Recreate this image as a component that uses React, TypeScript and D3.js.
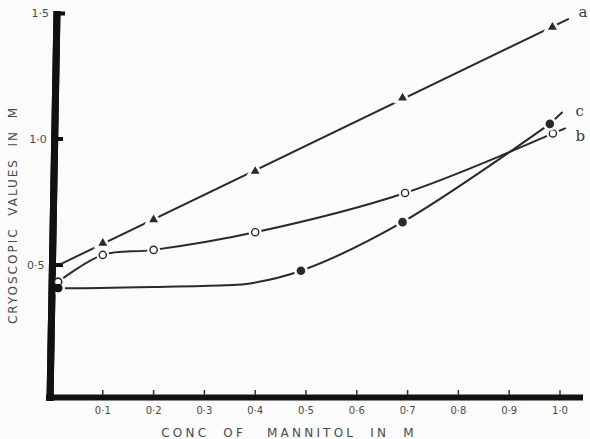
import React, { useEffect, useRef } from 'react';
import * as d3 from 'd3';

// curve a (triangles) - straight line through the points
const concA = [0.1, 0.2, 0.4, 0.69, 0.985];
const valA = [0.587, 0.68, 0.872, 1.163, 1.444];
// curve b (open circles)
const concB = [0.012, 0.1, 0.2, 0.4, 0.695, 0.986];
const valB = [0.433, 0.54, 0.56, 0.63, 0.786, 1.022];
// curve c (filled circles)
const concC = [0.012, 0.49, 0.69, 0.98];
const valC = [0.409, 0.477, 0.67, 1.06];
// hand drawn course of c through the flat part
const lineCConc = [0.012, 0.03, 0.2, 0.34, 0.39, 0.49, 0.69, 0.98];
const lineCVal = [0.409, 0.408, 0.413, 0.42, 0.427, 0.477, 0.67, 1.06];
// short dashes past the last point
const tailBConc = [0.986, 1.01];
const tailBVal = [1.022, 1.042];
const tailCConc = [0.98, 1.004];
const tailCVal = [1.06, 1.105];
const startA = 0.02, endA = 1.016;

const xTicks = [0.1, 0.2, 0.3, 0.4, 0.5, 0.6, 0.7, 0.8, 0.9, 1.0];
const xTickLabels = ['0·1', '0·2', '0·3', '0·4', '0·5', '0·6', '0·7', '0·8', '0·9', '1·0'];
const yTicks = [0.5, 1.0, 1.5];
const yTickLabels = ['0·5', '1·0', '1·5'];
const seriesNames = ['a', 'b', 'c'];

function Chart() {
  const ref = useRef<SVGSVGElement>(null);

  useEffect(() => {
    const svg = d3.select(ref.current);
    svg.selectAll('*').remove();

    const x = d3.scaleLinear().domain([0, 1]).range([52, 560]);
    const y = d3.scaleLinear().domain([0, 1.5]).range([391, 13]);

    const ink = '#2a2a2a';
    const textCol = '#4a4a4a';
    const font = 'DejaVu Sans, sans-serif';
    const bg = '#fbfbfb';

    svg.append('rect').attr('width', 590).attr('height', 439).attr('fill', bg);

    // slanted hand-drawn y axis
    const axTop = [x(0) + 5, y(1.5) - 2];
    const axBot = [x(0) - 2, 401];
    const axisXAt = (py: number) => axTop[0] + (axBot[0] - axTop[0]) * (py - axTop[1]) / (axBot[1] - axTop[1]);

    const drawYAxis = () => svg.append('line')
      .attr('x1', axTop[0]).attr('y1', axTop[1])
      .attr('x2', axBot[0]).attr('y2', axBot[1])
      .attr('stroke', '#111').attr('stroke-width', 7);
    drawYAxis();

    svg.append('line')
      .attr('x1', axBot[0] - 4).attr('y1', 397.5)
      .attr('x2', 583).attr('y2', 397.5)
      .attr('stroke', '#111').attr('stroke-width', 6);

    // x ticks
    svg.append('g').selectAll('line').data(xTicks).join('line')
      .attr('x1', d => x(d)).attr('x2', d => x(d))
      .attr('y1', 390).attr('y2', 395)
      .attr('stroke', '#333').attr('stroke-width', 1.5);

    svg.append('g').selectAll('text').data(xTicks).join('text')
      .attr('x', d => x(d)).attr('y', 414)
      .attr('text-anchor', 'middle')
      .attr('font-family', font).attr('font-size', 10)
      .attr('fill', textCol)
      .text((d, i) => xTickLabels[i]);

    // y ticks (little flags to the right of the axis)
    svg.append('g').selectAll('line').data(yTicks).join('line')
      .attr('x1', d => axisXAt(y(d))).attr('x2', d => (d === 1.5 ? x(0) + 13 : x(0) + 11))
      .attr('y1', d => (d === 1.5 ? y(d) + 0.5 : y(d)))
      .attr('y2', d => (d === 1.5 ? y(d) + 0.5 : y(d)))
      .attr('stroke', '#111').attr('stroke-width', 4);

    svg.append('g').selectAll('text').data(yTicks).join('text')
      .attr('x', d => axisXAt(y(d)) - 8).attr('y', d => y(d) + 4)
      .attr('text-anchor', 'end')
      .attr('font-family', font).attr('font-size', 11)
      .attr('fill', textCol)
      .text((d, i) => yTickLabels[i]);

    // axis titles
    svg.append('text')
      .attr('x', 289).attr('y', 437)
      .attr('text-anchor', 'middle')
      .attr('font-family', font).attr('font-size', 12)
      .attr('letter-spacing', 3.2)
      .attr('fill', textCol)
      .style('white-space', 'pre')
      .text('CONC  OF   MANNITOL  IN  M');

    svg.append('text')
      .attr('transform', 'translate(17,215) rotate(-90)')
      .attr('text-anchor', 'middle')
      .attr('font-family', font).attr('font-size', 12)
      .attr('letter-spacing', 2)
      .attr('fill', textCol)
      .style('white-space', 'pre')
      .text('CRYOSCOPIC  VALUES  IN  M');

    // curve a: least squares straight line through the triangles
    const mx = d3.mean(concA) as number;
    const my = d3.mean(valA) as number;
    const slope = d3.sum(concA, (c, i) => (c - mx) * (valA[i] - my)) / d3.sum(concA, c => (c - mx) ** 2);
    const fitA = (c: number) => my + slope * (c - mx);

    const lines = svg.append('g').attr('fill', 'none').attr('stroke', ink)
      .attr('stroke-width', 2).attr('stroke-linecap', 'round');

    lines.append('line')
      .attr('x1', x(startA)).attr('y1', y(fitA(startA)))
      .attr('x2', x(endA)).attr('y2', y(fitA(endA)));

    const curve = d3.line<number[]>()
      .x(d => d[0]).y(d => d[1])
      .curve(d3.curveCatmullRom.alpha(0.5));

    const ptsB = concB.map((c, i) => [x(c), y(valB[i])]);
    const ptsC = lineCConc.map((c, i) => [x(c), y(lineCVal[i])]);
    lines.append('path').attr('d', curve(ptsB));
    lines.append('path').attr('d', curve(ptsC));
    lines.append('path').attr('d', d3.line()(tailBConc.map((c, i) => [x(c), y(tailBVal[i])]) as any));
    lines.append('path').attr('d', d3.line()(tailCConc.map((c, i) => [x(c), y(tailCVal[i])]) as any));

    // markers with a paper-coloured halo so the lines break around them
    const tri = d3.symbol().type(d3.symbolTriangle).size(34);
    const triHalo = d3.symbol().type(d3.symbolTriangle).size(150);
    const gA = svg.append('g');
    concA.forEach((c, i) => {
      const t = `translate(${x(c)},${y(valA[i])})`;
      gA.append('path').attr('d', triHalo()).attr('transform', t).attr('fill', bg);
      gA.append('path').attr('d', tri()).attr('transform', t).attr('fill', ink);
    });

    const gB = svg.append('g');
    concB.forEach((c, i) => {
      gB.append('circle').attr('cx', x(c)).attr('cy', y(valB[i])).attr('r', 6.5).attr('fill', bg);
      gB.append('circle').attr('cx', x(c)).attr('cy', y(valB[i])).attr('r', 3.6)
        .attr('fill', '#fff').attr('stroke', ink).attr('stroke-width', 1.4);
    });

    const gC = svg.append('g');
    concC.forEach((c, i) => {
      gC.append('circle').attr('cx', x(c)).attr('cy', y(valC[i])).attr('r', 7).attr('fill', bg);
      gC.append('circle').attr('cx', x(c)).attr('cy', y(valC[i])).attr('r', 4.3).attr('fill', ink);
    });

    // redraw axis over the halos at the left edge
    drawYAxis();
    svg.append('circle').attr('cx', x(concB[0])).attr('cy', y(valB[0])).attr('r', 3.6)
      .attr('fill', '#fff').attr('stroke', ink).attr('stroke-width', 1.4);
    svg.append('circle').attr('cx', x(concC[0])).attr('cy', y(valC[0])).attr('r', 4.3).attr('fill', '#111');

    // series letters
    const labelPos = [[1.045, fitA(endA) + 0.03], [tailBConc[1] + 0.03, tailBVal[1] - 0.03], [tailCConc[1] + 0.035, tailCVal[1] + 0.005]];
    svg.append('g').selectAll('text').data(seriesNames).join('text')
      .attr('x', (d, i) => x(labelPos[i][0])).attr('y', (d, i) => y(labelPos[i][1]) + 5)
      .attr('text-anchor', 'middle')
      .attr('font-family', 'DejaVu Serif, serif').attr('font-size', 15)
      .attr('fill', '#3a3a3a')
      .text(d => d);
  }, []);

  return <svg ref={ref} width={590} height={439} style={{ position: 'absolute', left: 0, top: 0 }} />;
}

export default function App() {
  return <Chart />;
}
